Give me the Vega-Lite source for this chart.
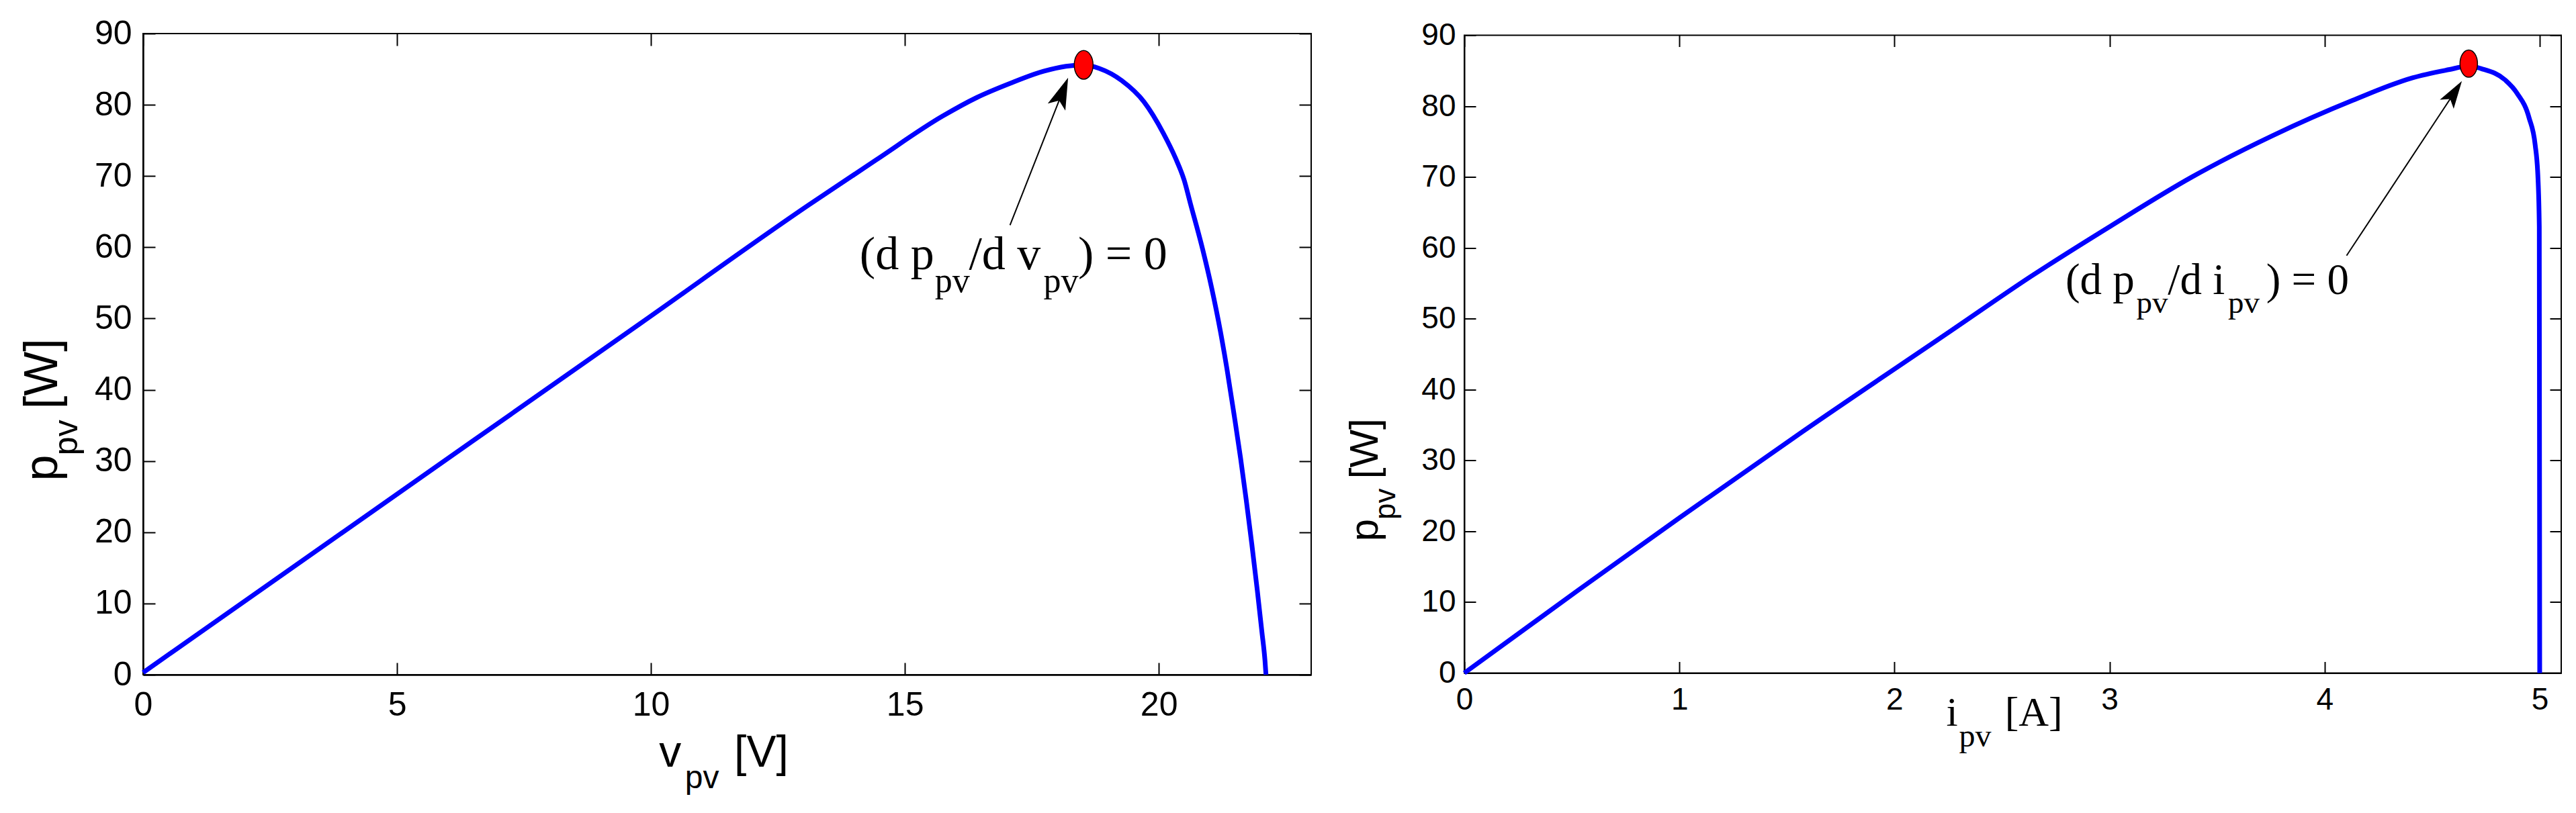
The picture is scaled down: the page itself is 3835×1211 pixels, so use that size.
{
  "$schema": "https://vega.github.io/schema/vega-lite/v6.json",
  "background": "white",
  "padding": {"left": 28, "top": 24, "right": 0, "bottom": 0},
  "config": {"view": {"stroke": "black", "strokeWidth": 2}},
  "bounds": "flush",
  "center": true,
  "spacing": 228,
  "datasets": {
    "pv_v": [
      {"v": 0, "p": 0.3}, {"v": 6.49, "p": 32.8}, {"v": 9.79, "p": 49.3}, {"v": 13.1, "p": 65.9},
      {"v": 14.42, "p": 72.2}, {"v": 15.74, "p": 78.4}, {"v": 16.41, "p": 81.0}, {"v": 17.07, "p": 83.0},
      {"v": 17.73, "p": 84.7}, {"v": 18.17, "p": 85.4}, {"v": 18.52, "p": 85.6}, {"v": 18.83, "p": 85.1},
      {"v": 19.27, "p": 83.4}, {"v": 19.71, "p": 80.4}, {"v": 20.09, "p": 76.0}, {"v": 20.33, "p": 72.5},
      {"v": 20.5, "p": 69.4}, {"v": 20.62, "p": 66.2}, {"v": 20.86, "p": 59.8}, {"v": 21.04, "p": 54.3},
      {"v": 21.21, "p": 48.3}, {"v": 21.34, "p": 43.0}, {"v": 21.48, "p": 36.6}, {"v": 21.61, "p": 30.4},
      {"v": 21.72, "p": 24.6}, {"v": 21.83, "p": 18.4}, {"v": 21.94, "p": 11.8}, {"v": 22.03, "p": 6.0},
      {"v": 22.09, "p": 2.0}, {"v": 22.11, "p": 0}
    ],
    "pv_i": [
      {"i": 0, "p": 0}, {"i": 0.53, "p": 11.7}, {"i": 1.0, "p": 21.9}, {"i": 1.574, "p": 34.1},
      {"i": 2.263, "p": 48.3}, {"i": 2.636, "p": 56.0}, {"i": 3.009, "p": 63.15}, {"i": 3.383, "p": 70.0},
      {"i": 3.756, "p": 75.8}, {"i": 4.13, "p": 80.8}, {"i": 4.409, "p": 84.0}, {"i": 4.596, "p": 85.26},
      {"i": 4.67, "p": 85.7}, {"i": 4.727, "p": 85.3}, {"i": 4.839, "p": 83.7}, {"i": 4.895, "p": 81.8},
      {"i": 4.951, "p": 78.3}, {"i": 4.979, "p": 74.5}, {"i": 4.992, "p": 69.8}, {"i": 4.998, "p": 63.0},
      {"i": 5.0, "p": 0}
    ],
    "mpp_v": [{"v": 18.52, "p": 85.6}],
    "mpp_i": [{"i": 4.67, "p": 86.0}],
    "arrow_v": [{"v": 17.07, "p": 63.1, "v2": 18.1, "p2": 81.74}],
    "arrow_i": [{"i": 4.102, "p": 58.9, "i2": 4.603, "p2": 81.9}],
    "labels_v": [
      {"v": 14.11, "p": 56.96, "t": "(d p", "role": "ann"},
      {"v": 15.59, "p": 53.7, "t": "pv", "role": "annsub"},
      {"v": 16.26, "p": 56.96, "t": "/d v", "role": "ann"},
      {"v": 17.73, "p": 53.7, "t": "pv", "role": "annsub"},
      {"v": 18.41, "p": 56.96, "t": ") = 0", "role": "ann"},
      {"v": 10.16, "p": -12.94, "t": "v", "role": "xt"},
      {"v": 10.67, "p": -15.96, "t": "pv", "role": "xtsub"},
      {"v": 11.64, "p": -12.94, "t": "[V]", "role": "xt"},
      {"v": -1.69, "p": 27.2, "t": "p", "role": "yt"},
      {"v": -1.29, "p": 30.8, "t": "pv", "role": "ytsub"},
      {"v": -1.69, "p": 37.3, "t": "[W]", "role": "yt"}
    ],
    "labels_i": [
      {"i": 2.795, "p": 53.5, "t": "(d p", "role": "ann"},
      {"i": 3.125, "p": 50.8, "t": "pv", "role": "annsub"},
      {"i": 3.271, "p": 53.5, "t": "/d i", "role": "ann"},
      {"i": 3.551, "p": 50.8, "t": "pv", "role": "annsub"},
      {"i": 3.728, "p": 53.5, "t": ") = 0", "role": "ann"},
      {"i": 2.241, "p": -7.43, "t": "i", "role": "xt"},
      {"i": 2.3, "p": -10.39, "t": "pv", "role": "xtsub"},
      {"i": 2.513, "p": -7.43, "t": "[A]", "role": "xt"},
      {"i": -0.402, "p": 18.6, "t": "p", "role": "yt"},
      {"i": -0.321, "p": 21.65, "t": "pv", "role": "ytsub"},
      {"i": -0.402, "p": 27.4, "t": "[W]", "role": "yt"}
    ]
  },
  "hconcat": [
    {
      "width": 1739,
      "height": 955,
      "resolve": {"axis": {"x": "independent", "y": "independent"}},
      "layer": [
        {
          "data": {"name": "pv_v"},
          "mark": {"type": "line", "color": "#0000ff", "strokeWidth": 7, "interpolate": "monotone"},
          "encoding": {
            "x": {"field": "v", "type": "quantitative", "scale": {"domain": [0, 23], "nice": false, "zero": false},
              "axis": {"orient": "bottom", "values": [0, 5, 10, 15, 20], "title": null, "grid": false, "domainColor": "black", "domainWidth": 2.5, "tickSize": -18, "tickWidth": 2, "tickColor": "black", "labelFont": "Liberation Sans", "labelFontSize": 50, "labelColor": "black", "labelPadding": 38, "labelFlush": false, "labelOverlap": false}},
            "y": {"field": "p", "type": "quantitative", "scale": {"domain": [0, 90], "nice": false},
              "axis": {"orient": "left", "values": [0, 10, 20, 30, 40, 50, 60, 70, 80, 90], "title": null, "grid": false, "domainColor": "black", "domainWidth": 2.5, "tickSize": -18, "tickWidth": 2, "tickColor": "black", "labelFont": "Liberation Sans", "labelFontSize": 50, "labelColor": "black", "labelPadding": 35, "labelOverlap": false}}
          }
        },
        {
          "data": {"name": "arrow_v"},
          "mark": {"type": "rule", "color": "black", "strokeWidth": 2},
          "encoding": {
            "x": {"field": "v", "type": "quantitative", "axis": null},
            "y": {"field": "p", "type": "quantitative", "axis": null},
            "x2": {"field": "v2"},
            "y2": {"field": "p2"}
          }
        },
        {
          "data": {"name": "arrow_v"},
          "mark": {"type": "point", "shape": "M0,-1L0.6,1L0,0.55L-0.6,1Z", "filled": true, "color": "black", "opacity": 1, "size": 2209, "angle": 21.5},
          "encoding": {
            "x": {"field": "v2", "type": "quantitative", "axis": null},
            "y": {"field": "p2", "type": "quantitative", "axis": null}
          }
        },
        {
          "data": {"name": "mpp_v"},
          "mark": {"type": "point", "shape": "M0,-1A0.656,1,0,1,1,0,1A0.656,1,0,1,1,0,-1Z", "filled": true, "fill": "#ff0000", "stroke": "black", "strokeWidth": 1.5, "opacity": 1, "size": 1823},
          "encoding": {
            "x": {"field": "v", "type": "quantitative",
              "axis": {"orient": "top", "values": [0, 5, 10, 15, 20], "title": null, "grid": false, "labels": false, "domain": false, "tickSize": -18, "tickWidth": 2, "tickColor": "black"}},
            "y": {"field": "p", "type": "quantitative",
              "axis": {"orient": "right", "values": [0, 10, 20, 30, 40, 50, 60, 70, 80, 90], "title": null, "grid": false, "labels": false, "domain": false, "tickSize": -18, "tickWidth": 2, "tickColor": "black"}}
          }
        },
        {
          "data": {"name": "labels_v"},
          "transform": [{"filter": "datum.role === 'ann'"}],
          "mark": {"type": "text", "font": "Liberation Serif", "fontSize": 70, "align": "left", "baseline": "alphabetic", "color": "black"},
          "encoding": {
            "x": {"field": "v", "type": "quantitative", "axis": null},
            "y": {"field": "p", "type": "quantitative", "axis": null},
            "text": {"field": "t"}
          }
        },
        {
          "data": {"name": "labels_v"},
          "transform": [{"filter": "datum.role === 'annsub'"}],
          "mark": {"type": "text", "font": "Liberation Serif", "fontSize": 52, "align": "left", "baseline": "alphabetic", "color": "black"},
          "encoding": {
            "x": {"field": "v", "type": "quantitative", "axis": null},
            "y": {"field": "p", "type": "quantitative", "axis": null},
            "text": {"field": "t"}
          }
        },
        {
          "data": {"name": "labels_v"},
          "transform": [{"filter": "datum.role === 'xt'"}],
          "mark": {"type": "text", "font": "Liberation Sans", "fontSize": 66, "align": "left", "baseline": "alphabetic", "color": "black"},
          "encoding": {
            "x": {"field": "v", "type": "quantitative", "axis": null},
            "y": {"field": "p", "type": "quantitative", "axis": null},
            "text": {"field": "t"}
          }
        },
        {
          "data": {"name": "labels_v"},
          "transform": [{"filter": "datum.role === 'xtsub'"}],
          "mark": {"type": "text", "font": "Liberation Sans", "fontSize": 48, "align": "left", "baseline": "alphabetic", "color": "black"},
          "encoding": {
            "x": {"field": "v", "type": "quantitative", "axis": null},
            "y": {"field": "p", "type": "quantitative", "axis": null},
            "text": {"field": "t"}
          }
        },
        {
          "data": {"name": "labels_v"},
          "transform": [{"filter": "datum.role === 'yt'"}],
          "mark": {"type": "text", "font": "Liberation Sans", "fontSize": 70, "align": "left", "baseline": "alphabetic", "angle": 270, "color": "black"},
          "encoding": {
            "x": {"field": "v", "type": "quantitative", "axis": null},
            "y": {"field": "p", "type": "quantitative", "axis": null},
            "text": {"field": "t"}
          }
        },
        {
          "data": {"name": "labels_v"},
          "transform": [{"filter": "datum.role === 'ytsub'"}],
          "mark": {"type": "text", "font": "Liberation Sans", "fontSize": 50, "align": "left", "baseline": "alphabetic", "angle": 270, "color": "black"},
          "encoding": {
            "x": {"field": "v", "type": "quantitative", "axis": null},
            "y": {"field": "p", "type": "quantitative", "axis": null},
            "text": {"field": "t"}
          }
        }
      ]
    },
    {
      "width": 1633,
      "height": 950,
      "resolve": {"axis": {"x": "independent", "y": "independent"}},
      "layer": [
        {
          "data": {"name": "pv_i"},
          "mark": {"type": "line", "color": "#0000ff", "strokeWidth": 7, "interpolate": "monotone"},
          "encoding": {
            "x": {"field": "i", "type": "quantitative", "scale": {"domain": [0, 5.1], "nice": false, "zero": false},
              "axis": {"orient": "bottom", "values": [0, 1, 2, 3, 4, 5], "title": null, "grid": false, "domainColor": "black", "domainWidth": 2, "tickSize": -17, "tickWidth": 2, "tickColor": "black", "labelFont": "Liberation Sans", "labelFontSize": 46, "labelColor": "black", "labelPadding": 35, "labelFlush": false, "labelOverlap": false}},
            "y": {"field": "p", "type": "quantitative", "scale": {"domain": [0, 90], "nice": false},
              "axis": {"orient": "left", "values": [0, 10, 20, 30, 40, 50, 60, 70, 80, 90], "title": null, "grid": false, "domainColor": "black", "domainWidth": 2, "tickSize": -17, "tickWidth": 2, "tickColor": "black", "labelFont": "Liberation Sans", "labelFontSize": 46, "labelColor": "black", "labelPadding": 30, "labelOverlap": false}}
          }
        },
        {
          "data": {"name": "arrow_i"},
          "mark": {"type": "rule", "color": "black", "strokeWidth": 2},
          "encoding": {
            "x": {"field": "i", "type": "quantitative", "axis": null},
            "y": {"field": "p", "type": "quantitative", "axis": null},
            "x2": {"field": "i2"},
            "y2": {"field": "p2"}
          }
        },
        {
          "data": {"name": "arrow_i"},
          "mark": {"type": "point", "shape": "M0,-1L0.6,1L0,0.55L-0.6,1Z", "filled": true, "color": "black", "opacity": 1, "size": 1681, "angle": 33.3},
          "encoding": {
            "x": {"field": "i2", "type": "quantitative", "axis": null},
            "y": {"field": "p2", "type": "quantitative", "axis": null}
          }
        },
        {
          "data": {"name": "mpp_i"},
          "mark": {"type": "point", "shape": "M0,-1A0.64,1,0,1,1,0,1A0.64,1,0,1,1,0,-1Z", "filled": true, "fill": "#ff0000", "stroke": "black", "strokeWidth": 1.5, "opacity": 1, "size": 1656},
          "encoding": {
            "x": {"field": "i", "type": "quantitative",
              "axis": {"orient": "top", "values": [0, 1, 2, 3, 4, 5], "title": null, "grid": false, "labels": false, "domain": false, "tickSize": -17, "tickWidth": 2, "tickColor": "black"}},
            "y": {"field": "p", "type": "quantitative",
              "axis": {"orient": "right", "values": [0, 10, 20, 30, 40, 50, 60, 70, 80, 90], "title": null, "grid": false, "labels": false, "domain": false, "tickSize": -17, "tickWidth": 2, "tickColor": "black"}}
          }
        },
        {
          "data": {"name": "labels_i"},
          "transform": [{"filter": "datum.role === 'ann'"}],
          "mark": {"type": "text", "font": "Liberation Serif", "fontSize": 65, "align": "left", "baseline": "alphabetic", "color": "black"},
          "encoding": {
            "x": {"field": "i", "type": "quantitative", "axis": null},
            "y": {"field": "p", "type": "quantitative", "axis": null},
            "text": {"field": "t"}
          }
        },
        {
          "data": {"name": "labels_i"},
          "transform": [{"filter": "datum.role === 'annsub'"}],
          "mark": {"type": "text", "font": "Liberation Serif", "fontSize": 47, "align": "left", "baseline": "alphabetic", "color": "black"},
          "encoding": {
            "x": {"field": "i", "type": "quantitative", "axis": null},
            "y": {"field": "p", "type": "quantitative", "axis": null},
            "text": {"field": "t"}
          }
        },
        {
          "data": {"name": "labels_i"},
          "transform": [{"filter": "datum.role === 'xt'"}],
          "mark": {"type": "text", "font": "Liberation Serif", "fontSize": 62, "align": "left", "baseline": "alphabetic", "color": "black"},
          "encoding": {
            "x": {"field": "i", "type": "quantitative", "axis": null},
            "y": {"field": "p", "type": "quantitative", "axis": null},
            "text": {"field": "t"}
          }
        },
        {
          "data": {"name": "labels_i"},
          "transform": [{"filter": "datum.role === 'xtsub'"}],
          "mark": {"type": "text", "font": "Liberation Serif", "fontSize": 48, "align": "left", "baseline": "alphabetic", "color": "black"},
          "encoding": {
            "x": {"field": "i", "type": "quantitative", "axis": null},
            "y": {"field": "p", "type": "quantitative", "axis": null},
            "text": {"field": "t"}
          }
        },
        {
          "data": {"name": "labels_i"},
          "transform": [{"filter": "datum.role === 'yt'"}],
          "mark": {"type": "text", "font": "Liberation Sans", "fontSize": 60, "align": "left", "baseline": "alphabetic", "angle": 270, "color": "black"},
          "encoding": {
            "x": {"field": "i", "type": "quantitative", "axis": null},
            "y": {"field": "p", "type": "quantitative", "axis": null},
            "text": {"field": "t"}
          }
        },
        {
          "data": {"name": "labels_i"},
          "transform": [{"filter": "datum.role === 'ytsub'"}],
          "mark": {"type": "text", "font": "Liberation Sans", "fontSize": 44, "align": "left", "baseline": "alphabetic", "angle": 270, "color": "black"},
          "encoding": {
            "x": {"field": "i", "type": "quantitative", "axis": null},
            "y": {"field": "p", "type": "quantitative", "axis": null},
            "text": {"field": "t"}
          }
        }
      ]
    }
  ]
}
